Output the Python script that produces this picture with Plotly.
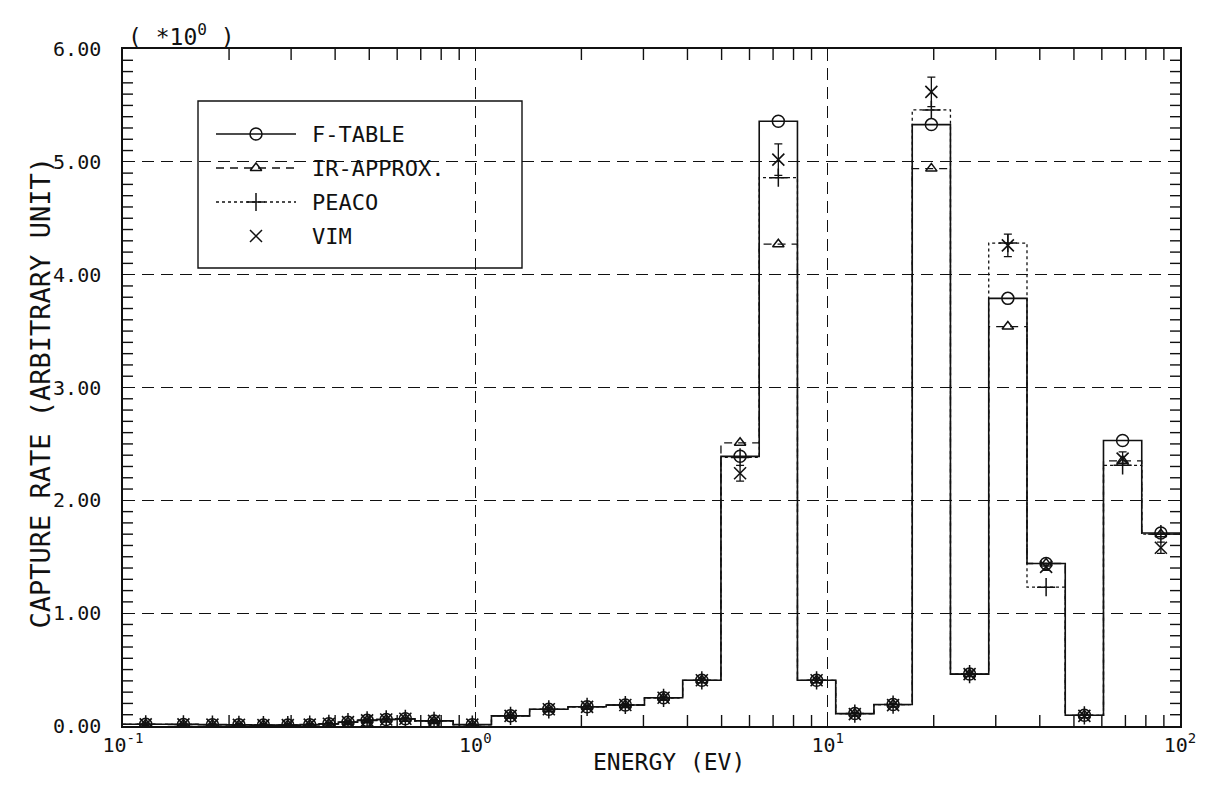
import plotly.graph_objects as go
import math

# Energy group boundaries (eV), low to high
edges = [0.1, 0.1346, 0.1637, 0.1966, 0.2314, 0.2708, 0.3183, 0.3607, 0.4087,
         0.4631, 0.5248, 0.5946, 0.6738, 0.8652, 1.111, 1.426, 1.832, 2.352,
         3.020, 3.877, 4.979, 6.393, 8.208, 10.54, 13.53, 17.38, 22.31, 28.65,
         36.79, 47.24, 60.65, 77.88, 100.0]

# Group-wise capture rates (x 10^0, arbitrary unit)
f_table = [0.015, 0.014, 0.012, 0.010, 0.008, 0.008, 0.012, 0.020, 0.034,
           0.050, 0.058, 0.064, 0.045, 0.012, 0.090, 0.148, 0.170, 0.186,
           0.250, 0.405, 2.39, 5.36, 0.405, 0.110, 0.190, 5.33, 0.46, 3.79,
           1.44, 0.095, 2.53, 1.71]
ir_approx = [0.015, 0.014, 0.012, 0.010, 0.008, 0.008, 0.012, 0.020, 0.034,
             0.050, 0.058, 0.064, 0.045, 0.012, 0.090, 0.148, 0.170, 0.186,
             0.250, 0.405, 2.51, 4.27, 0.405, 0.110, 0.190, 4.94, 0.46, 3.54,
             1.44, 0.095, 2.35, 1.70]
peaco = [0.015, 0.014, 0.012, 0.010, 0.008, 0.008, 0.012, 0.020, 0.034,
         0.050, 0.058, 0.064, 0.045, 0.012, 0.090, 0.148, 0.170, 0.186,
         0.250, 0.405, 2.38, 4.86, 0.405, 0.110, 0.190, 5.46, 0.46, 4.28,
         1.23, 0.095, 2.31, 1.70]
vim = [0.015, 0.014, 0.012, 0.010, 0.008, 0.008, 0.012, 0.020, 0.034,
       0.050, 0.058, 0.064, 0.045, 0.012, 0.090, 0.148, 0.170, 0.186,
       0.250, 0.405, 2.24, 5.02, 0.405, 0.105, 0.185, 5.62, 0.46, 4.26,
       1.41, 0.090, 2.37, 1.58]
vim_err = [0.012, 0.012, 0.012, 0.012, 0.012, 0.012, 0.012, 0.012, 0.012,
           0.012, 0.012, 0.012, 0.012, 0.012, 0.015, 0.015, 0.015, 0.015,
           0.015, 0.02, 0.07, 0.14, 0.02, 0.015, 0.015, 0.13, 0.02, 0.10,
           0.03, 0.015, 0.06, 0.05]

y_ticks = [0, 1, 2, 3, 4, 5, 6]
y_ticktext = ["0.00", "1.00", "2.00", "3.00", "4.00", "5.00", "6.00"]
x_ticks = [0.1, 1, 10, 100]
x_ticktext = ["10<sup>-1</sup>", "10<sup>0</sup>", "10<sup>1</sup>", "10<sup>2</sup>"]
x_minor = [0.2, 0.3, 0.4, 0.5, 0.6, 0.7, 0.8, 0.9,
           2, 3, 4, 5, 6, 7, 8, 9, 20, 30, 40, 50, 60, 70, 80, 90]
y_minor = [k / 10 for k in range(1, 60) if k % 10]

FONT = "DejaVu Sans Mono"
INK = "#111111"

# plot-area box in pixels
L, R, T, B = 123, 1180, 49, 726
W_PX, H_PX = R - L, B - T

# bin midpoints (log scale) for the markers
centers = [(a * b) ** 0.5 for a, b in zip(edges[:-1], edges[1:])]


def step_xy(vals):
    return edges, list(vals) + [vals[-1]]


def px(x):
    return (x - L) / W_PX


def py(y):
    return (B - y) / H_PX


fig = go.Figure()

series = [
    ("F-TABLE", f_table, "solid", 1.6, "circle-open", 12),
    ("IR-APPROX.", ir_approx, "8px,6px", 1.3, "triangle-up-open", 10),
    ("PEACO", peaco, "3px,3px", 1.3, "cross-thin-open", 13),
]

for name, vals, dash, lw, sym, size in series:
    sx, sy = step_xy(vals)
    fig.add_trace(go.Scatter(
        x=sx, y=sy, mode="lines", line_shape="hv",
        line=dict(color=INK, width=lw, dash=dash),
        showlegend=False, hoverinfo="skip"))
    fig.add_trace(go.Scatter(
        x=centers, y=vals, mode="markers", name=name,
        marker=dict(symbol=sym, size=size, color=INK,
                    line=dict(color=INK, width=1.5)),
        showlegend=False))

fig.add_trace(go.Scatter(
    x=centers, y=vim, mode="markers", name="VIM",
    marker=dict(symbol="x-thin-open", size=12, color=INK,
                line=dict(color=INK, width=1.6)),
    error_y=dict(type="data", array=vim_err, width=4, thickness=1.3, color=INK),
    showlegend=False))

# ---- legend drawn on an overlay axis spanning the plot area (0..1) ----
legend_rows = [
    ("F-TABLE", "solid", "circle-open", 12, 134),
    ("IR-APPROX.", "8px,6px", "triangle-up-open", 10, 168),
    ("PEACO", "3px,3px", "cross-thin-open", 13, 202),
    ("VIM", None, "x-thin-open", 12, 236),
]
for label, dash, sym, size, yy in legend_rows:
    if dash is not None:
        fig.add_trace(go.Scatter(
            x=[px(216), px(296)], y=[py(yy), py(yy)], xaxis="x2", yaxis="y2",
            mode="lines", line=dict(color=INK, width=1.4, dash=dash),
            showlegend=False, hoverinfo="skip", cliponaxis=False))
    fig.add_trace(go.Scatter(
        x=[px(256)], y=[py(yy)], xaxis="x2", yaxis="y2", mode="markers",
        marker=dict(symbol=sym, size=size, color=INK, line=dict(color=INK, width=1.5)),
        showlegend=False, hoverinfo="skip", cliponaxis=False))
    fig.add_annotation(x=px(310), y=py(yy), xref="paper", yref="paper",
                       text=label, showarrow=False, xanchor="left", yanchor="middle",
                       font=dict(family=FONT, size=22, color=INK))

fig.add_shape(type="rect", xref="paper", yref="paper",
              x0=px(198), x1=px(522), y0=py(268), y1=py(101),
              line=dict(color=INK, width=1.4), fillcolor="white", layer="between")

# ---- minor tick marks on all four sides of the frame, on the 0..1 overlay ----
tick_y_len = 10 / W_PX
tick_x_len = 11 / H_PX
tx, ty = [], []
for v in y_minor:
    f = v / 6
    tx += [0, tick_y_len, None, 1 - tick_y_len, 1, None]
    ty += [f, f, None, f, f, None]
for v in x_minor:
    f = (math.log10(v) + 1) / 3
    tx += [f, f, None, f, f, None]
    ty += [0, tick_x_len, None, 1 - tick_x_len, 1, None]
fig.add_trace(go.Scatter(x=tx, y=ty, xaxis="x2", yaxis="y2", mode="lines",
                         line=dict(color=INK, width=1.4), connectgaps=False,
                         showlegend=False, hoverinfo="skip", cliponaxis=False))

# axis titles and multiplier
fig.add_annotation(x=px(669), y=py(777), xref="paper", yref="paper",
                   text="ENERGY (EV)", showarrow=False,
                   font=dict(family=FONT, size=23, color=INK))
fig.add_annotation(x=px(22), y=py(393), xref="paper", yref="paper",
                   text="CAPTURE RATE (ARBITRARY UNIT)", showarrow=False, textangle=-90,
                   font=dict(family=FONT, size=27, color=INK))
fig.add_annotation(x=px(126), y=py(18), xref="paper", yref="paper",
                   text="( *10<sup>0</sup> )", showarrow=False, xanchor="left",
                   font=dict(family=FONT, size=23, color=INK))

axis_common = dict(showline=True, linecolor=INK, linewidth=1.5, mirror=True,
                   ticks="inside", tickcolor=INK, zeroline=False,
                   showgrid=True, gridcolor=INK, gridwidth=1.3, griddash="12px,7px")

fig.update_xaxes(type="log", range=[-1, 2], tickmode="array",
                 tickvals=x_ticks, ticktext=x_ticktext, ticklen=14, tickwidth=1.3,
                 tickfont=dict(family=FONT, size=20, color=INK),
                 **axis_common)
fig.update_yaxes(range=[0, 6], tickmode="array", tickvals=y_ticks, ticktext=y_ticktext,
                 ticklen=12, tickwidth=1.3, ticklabelstandoff=16,
                 tickfont=dict(family=FONT, size=20, color=INK),
                 **axis_common)

fig.update_layout(
    xaxis2=dict(overlaying="x", range=[0, 1], visible=False, anchor="y2"),
    yaxis2=dict(overlaying="y", range=[0, 1], visible=False, anchor="x2"),
    width=1209, height=797,
    margin=dict(l=L, r=1209 - R, t=T, b=797 - B),
    paper_bgcolor="white", plot_bgcolor="white",
    showlegend=False,
)

fig.write_html("out.html")
